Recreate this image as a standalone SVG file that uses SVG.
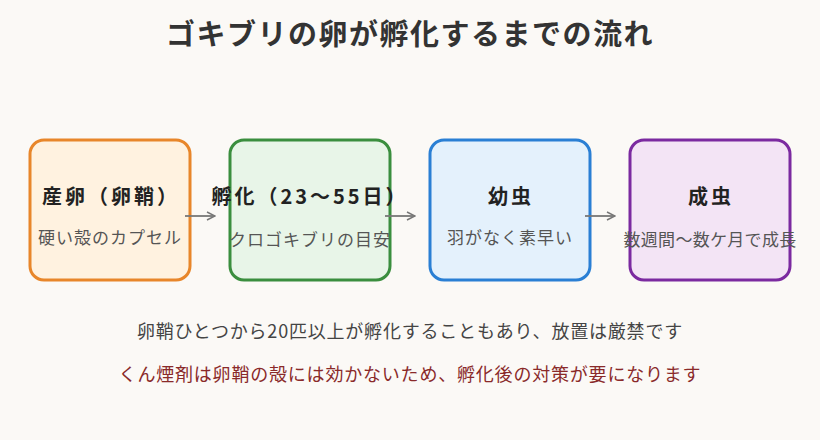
<svg xmlns="http://www.w3.org/2000/svg" width="820" height="440" viewBox="0 0 820 440">
<defs><marker id="ah" markerWidth="10" markerHeight="10" refX="9" refY="5" orient="auto" markerUnits="userSpaceOnUse"><path d="M1,1 L9,5 L1,9" fill="none" stroke="#777" stroke-width="1.5"/></marker></defs>
<style>
text{font-family:"Noto Sans CJK JP","Noto Sans",sans-serif;text-anchor:middle}
.t{font-size:20px;font-weight:bold;fill:#222;letter-spacing:3px}
.s{font-size:17px;fill:#555;letter-spacing:1px}
.box{stroke-width:3}
.c{stroke:#777;stroke-width:1.8;fill:none;marker-end:url(#ah)}
</style>
<rect width="820" height="440" fill="#fbf9f6"/>
<text x="410" y="45" style="font-size:29px;font-weight:bold;fill:#333;letter-spacing:1.5px">ゴキブリの卵が孵化するまでの流れ</text>
<g id="n1"><rect class="box" x="30" y="140" width="160" height="140" rx="14" fill="#fff2e0" stroke="#e8862a"/><text class="t" x="111" y="204">産卵（卵鞘）</text><text class="s" x="110" y="244">硬い殻のカプセル</text></g>
<g id="n2"><rect class="box" x="230" y="140" width="160" height="140" rx="14" fill="#e8f5e8" stroke="#3a8e3e"/><text class="t" x="310" y="204">孵化（23〜55日）</text><text class="s" x="310" y="246">クロゴキブリの目安</text></g>
<g id="n3"><rect class="box" x="430" y="140" width="160" height="140" rx="14" fill="#e4f1fc" stroke="#2a7fd4"/><text class="t" x="511" y="204">幼虫</text><text class="s" x="510" y="244">羽がなく素早い</text></g>
<g id="n4"><rect class="box" x="630" y="140" width="160" height="140" rx="14" fill="#f3e4f5" stroke="#7b2aa0"/><text class="t" x="711" y="204">成虫</text><text class="s" x="710" y="246" style="letter-spacing:0.3px">数週間〜数ケ月で成長</text></g>
<g id="connectors"><line class="c" x1="185" y1="216" x2="215" y2="216"/><line class="c" x1="385" y1="216" x2="415" y2="216"/><line class="c" x1="585" y1="216" x2="615" y2="216"/></g>
<text x="410" y="338" style="font-size:18px;fill:#444;letter-spacing:0.8px">卵鞘ひとつから20匹以上が孵化することもあり、放置は厳禁です</text>
<text x="410" y="381" style="font-size:18px;fill:#8a2a2a;letter-spacing:0.8px">くん煙剤は卵鞘の殻には効かないため、孵化後の対策が要になります</text>
</svg>
